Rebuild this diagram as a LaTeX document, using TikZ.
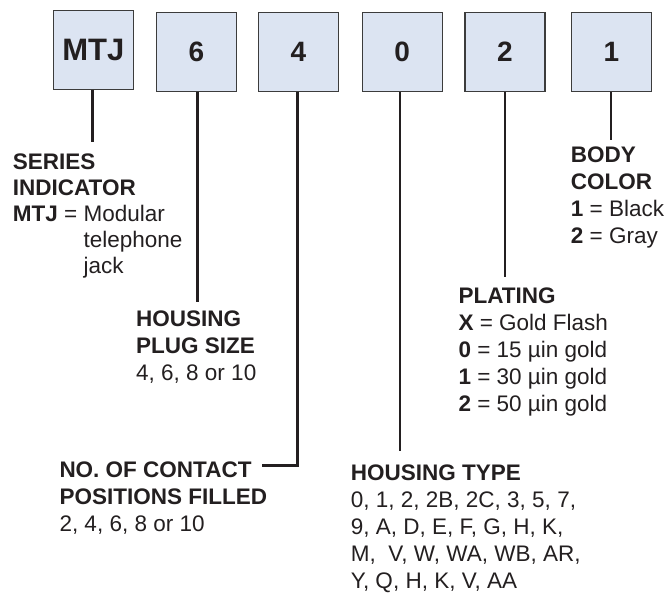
\documentclass[tikz,border=0pt]{standalone}
\usepackage{fontspec}
\setmainfont{Liberation Sans}
\definecolor{ink}{HTML}{231F20}
\definecolor{boxfill}{HTML}{DCE4F2}
\definecolor{boxline}{HTML}{3C3C3C}
\newcommand\desclines[1]{\begin{tabular}[t]{@{}l@{}}#1\end{tabular}}
\tikzset{
 codebox/.style={draw=boxline, line width=1.4pt, fill=boxfill, minimum width=80pt,
   minimum height=79pt, inner sep=0pt, text=ink, font=\bfseries\fontsize{28}{30}\selectfont},
 leader/.style={draw=ink, line width=2.5pt},
 desc/.style={anchor=base west, inner sep=0pt, text=ink, font=\fontsize{22.5}{27}\selectfont},
 descs/.style={desc, font=\fontsize{22.5}{26}\selectfont},
}
\begin{document}
\begin{tikzpicture}[x=1pt,y=-1pt]
\useasboundingbox (0,0) rectangle (667,593);
% code boxes
\node[codebox, font=\bfseries\fontsize{31}{33}\selectfont] (bM) at (93.3,49.8) {MTJ};
\node[codebox] (b6) at (196.5,52) {6};
\node[codebox] (b4) at (298.3,52) {4};
\node[codebox] (b0) at (402.2,52) {0};
\node[codebox] (b2) at (505,52) {2};
\node[codebox] (b1) at (611.3,52) {1};
% descriptions
\node[descs] (series) at (12.7,169.3) {\desclines{\textbf{SERIES}\\\textbf{INDICATOR}\\\textbf{MTJ} = Modular\\\phantom{\textbf{MTJ} = }telephone\\\phantom{\textbf{MTJ} = }jack}};
\node[desc] (plug) at (136,327) {\desclines{\textbf{HOUSING}\\\textbf{PLUG SIZE}\\4, 6, 8 or 10}};
\node[desc] (contact) at (59.3,477.3) {\desclines{\textbf{NO. OF CONTACT}\\\textbf{POSITIONS FILLED}\\2, 4, 6, 8 or 10}};
\node[desc] (htype) at (350.7,481) {\desclines{\textbf{HOUSING TYPE}\\0, 1, 2, 2B, 2C, 3, 5, 7,\\9, A, D, E, F, G, H, K,\\M,\ \ V, W, WA, WB, AR,\\Y, Q, H, K, V, AA}};
\node[desc] (plating) at (458.3,303.3) {\desclines{\textbf{PLATING}\\\textbf{X} = Gold Flash\\\textbf{0} = 15 µin gold\\\textbf{1} = 30 µin gold\\\textbf{2} = 50 µin gold}};
\node[desc] (body) at (570.7,162.3) {\desclines{\textbf{BODY}\\\textbf{COLOR}\\\textbf{1} = Black\\\textbf{2} = Gray}};
% leader ends
\coordinate (eM) at (92.5,141.7);
\coordinate (e6) at (197.3,302);
\coordinate (c4) at (297.7,465.7);
\coordinate (e4) at (261.7,465.7);
\coordinate (e0) at (400,450.7);
\coordinate (e2) at (505,277);
\coordinate (e1) at (611,140);
% leaders
\draw[leader] (bM.south -| eM) -- (eM);
\draw[leader] (b6.south -| e6) -- (e6);
\draw[leader] (b4.south -| c4) -- (c4) -- (e4);
\draw[leader] (b0.south -| e0) -- (e0);
\draw[leader] (b2.south -| e2) -- (e2);
\draw[leader] (b1.south -| e1) -- (e1);
\end{tikzpicture}
\end{document}
